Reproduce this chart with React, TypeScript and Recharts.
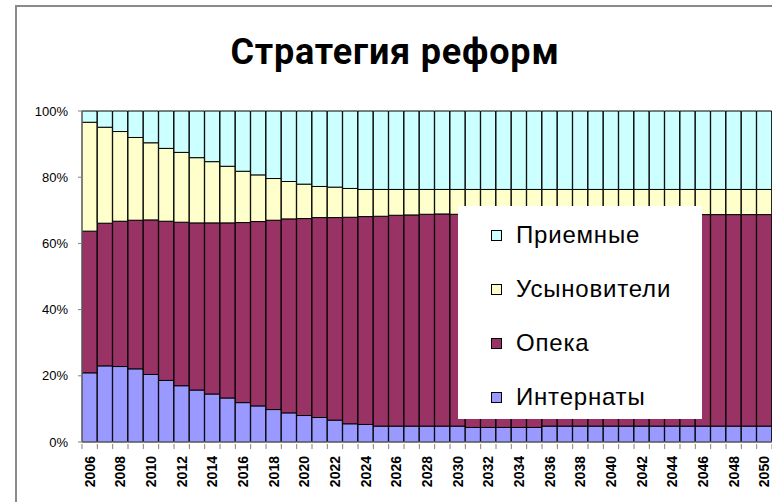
import { Bar, BarChart, Legend, XAxis, YAxis } from "recharts";

const years = [
  "2006", "2007", "2008", "2009", "2010", "2011", "2012", "2013", "2014", "2015",
  "2016", "2017", "2018", "2019", "2020", "2021", "2022", "2023", "2024", "2025",
  "2026", "2027", "2028", "2029", "2030", "2031", "2032", "2033", "2034", "2035",
  "2036", "2037", "2038", "2039", "2040", "2041", "2042", "2043", "2044", "2045",
  "2046", "2047", "2048", "2049", "2050",
];

// shares, % of total
const internaty = [
  20.9, 23.0, 22.8, 22.1, 20.4, 18.6, 17.0, 15.7, 14.5, 13.3,
  11.9, 10.9, 9.8, 8.8, 8.0, 7.4, 6.6, 5.5, 5.3, 4.8,
  4.8, 4.8, 4.8, 4.8, 4.8, 4.4, 4.4, 4.4, 4.4, 4.4,
  4.8, 4.8, 4.8, 4.8, 4.8, 4.8, 4.8, 4.8, 4.8, 4.8,
  4.8, 4.8, 4.8, 4.8, 4.8,
];
const opeka = [
  42.8, 43.1, 43.9, 44.9, 46.7, 48.1, 49.4, 50.5, 51.7, 52.9,
  54.4, 55.7, 57.2, 58.6, 59.5, 60.4, 61.2, 62.4, 62.8, 63.4,
  63.7, 63.8, 64.0, 64.1, 64.0, 64.3, 64.3, 64.3, 64.3, 64.3,
  63.9, 63.9, 63.9, 63.9, 63.9, 63.9, 63.9, 63.9, 63.9, 63.9,
  63.9, 63.9, 63.9, 63.9, 63.9,
];
const usynoviteli = [
  32.9, 29.0, 27.1, 25.0, 23.3, 22.0, 21.1, 19.7, 18.5, 17.1,
  15.5, 14.1, 12.6, 11.3, 10.4, 9.4, 9.2, 8.7, 8.2, 8.1,
  7.8, 7.7, 7.5, 7.4, 7.5, 7.6, 7.6, 7.6, 7.6, 7.6,
  7.6, 7.6, 7.6, 7.6, 7.6, 7.6, 7.6, 7.6, 7.6, 7.6,
  7.6, 7.6, 7.6, 7.6, 7.6,
];
const priemnye = [
  3.4, 4.9, 6.2, 8.0, 9.6, 11.3, 12.5, 14.1, 15.3, 16.7,
  18.2, 19.3, 20.4, 21.3, 22.1, 22.8, 23.0, 23.4, 23.7, 23.7,
  23.7, 23.7, 23.7, 23.7, 23.7, 23.7, 23.7, 23.7, 23.7, 23.7,
  23.7, 23.7, 23.7, 23.7, 23.7, 23.7, 23.7, 23.7, 23.7, 23.7,
  23.7, 23.7, 23.7, 23.7, 23.7,
];

const yTicks = [0, 0.2, 0.4, 0.6, 0.8, 1];

const series = [
  { key: "internaty", name: "Интернаты", color: "#9999FF" },
  { key: "opeka", name: "Опека", color: "#993366" },
  { key: "usynoviteli", name: "Усыновители", color: "#FFFFCC" },
  { key: "priemnye", name: "Приемные", color: "#CCFFFF" },
];

const data = years.map((year, i) => ({
  year,
  internaty: internaty[i],
  opeka: opeka[i],
  usynoviteli: usynoviteli[i],
  priemnye: priemnye[i],
}));

const AXIS_FONT = "'Liberation Sans', Arial, sans-serif";

function YearTick(props: any) {
  const { x, y, payload, index } = props;
  const half = payload?.offset ?? 690 / 45 / 2;
  return (
    <g>
      <line x1={x - half} y1={y - 6} x2={x - half} y2={y - 1} stroke="#808080" />
      {index === years.length - 1 && (
        <line x1={x + half} y1={y - 6} x2={x + half} y2={y - 1} stroke="#808080" />
      )}
      {index % 2 === 0 && (
        <text
          x={x}
          y={y + 6}
          transform={`rotate(-90, ${x}, ${y + 6})`}
          textAnchor="end"
          dy="0.36em"
          fontFamily={AXIS_FONT}
          fontWeight="bold"
          fontSize={14}
          fill="#000"
        >
          {payload.value}
        </text>
      )}
    </g>
  );
}

// legend lists the stack top-down, like the bars
function LegendBox() {
  const items = [...series].reverse();
  return (
    <div style={{ width: 244, height: 213, background: "#fff", paddingTop: 2, boxSizing: "border-box" }}>
      {items.map((s) => (
        <div key={s.key} style={{ height: 54, display: "flex", alignItems: "center", paddingLeft: 33 }}>
          <span
            style={{
              display: "inline-block",
              width: 9,
              height: 9,
              background: s.color,
              border: "1px solid #000",
              marginRight: 14,
            }}
          />
          <span style={{ fontFamily: AXIS_FONT, fontSize: 24, letterSpacing: 0.8, color: "#000" }}>{s.name}</span>
        </div>
      ))}
    </div>
  );
}

export default function App() {
  return (
    <div style={{ position: "absolute", left: 0, top: 0, width: 772, height: 502, overflow: "hidden", background: "#fff" }}>
      <div
        style={{
          position: "absolute",
          left: 15,
          top: 5,
          width: 800,
          height: 600,
          borderTop: "2px solid #8a8a8a",
          borderLeft: "2px solid #8a8a8a",
        }}
      />
      <div
        style={{
          position: "absolute",
          left: 145,
          top: 34,
          width: 500,
          textAlign: "center",
          fontFamily: "Roboto, sans-serif",
          fontWeight: 700,
          fontSize: 36,
          lineHeight: "37px",
          letterSpacing: 0.8,
          color: "#000",
        }}
      >
        Стратегия реформ
      </div>
      <div style={{ position: "absolute", left: 0, top: 0 }}>
        <BarChart
          width={772}
          height={502}
          data={data}
          stackOffset="expand"
          barCategoryGap={0}
          margin={{ top: 111, right: 0, bottom: 0, left: 0 }}
        >
          <XAxis
            dataKey="year"
            interval={0}
            height={60}
            tickLine={false}
            axisLine={{ stroke: "#808080" }}
            tick={<YearTick />}
          />
          <YAxis
            width={82}
            ticks={yTicks}
            domain={[0, 1]}
            tickSize={4}
            tickMargin={10}
            tickLine={{ stroke: "#808080" }}
            axisLine={{ stroke: "#808080" }}
            tickFormatter={(v: number) => `${Math.round(v * 100)}%`}
            tick={{ fontFamily: AXIS_FONT, fontSize: 13, fill: "#000" }}
          />
          <Legend
            layout="vertical"
            align="center"
            verticalAlign="middle"
            wrapperStyle={{ left: 458, top: 206, width: 244, height: 213 }}
            content={<LegendBox />}
          />
          {series.map((s) => (
            <Bar
              key={s.key}
              dataKey={s.key}
              name={s.name}
              stackId="a"
              fill={s.color}
              stroke="#000"
              strokeWidth={1}
              isAnimationActive={false}
            />
          ))}
        </BarChart>
      </div>
    </div>
  );
}
